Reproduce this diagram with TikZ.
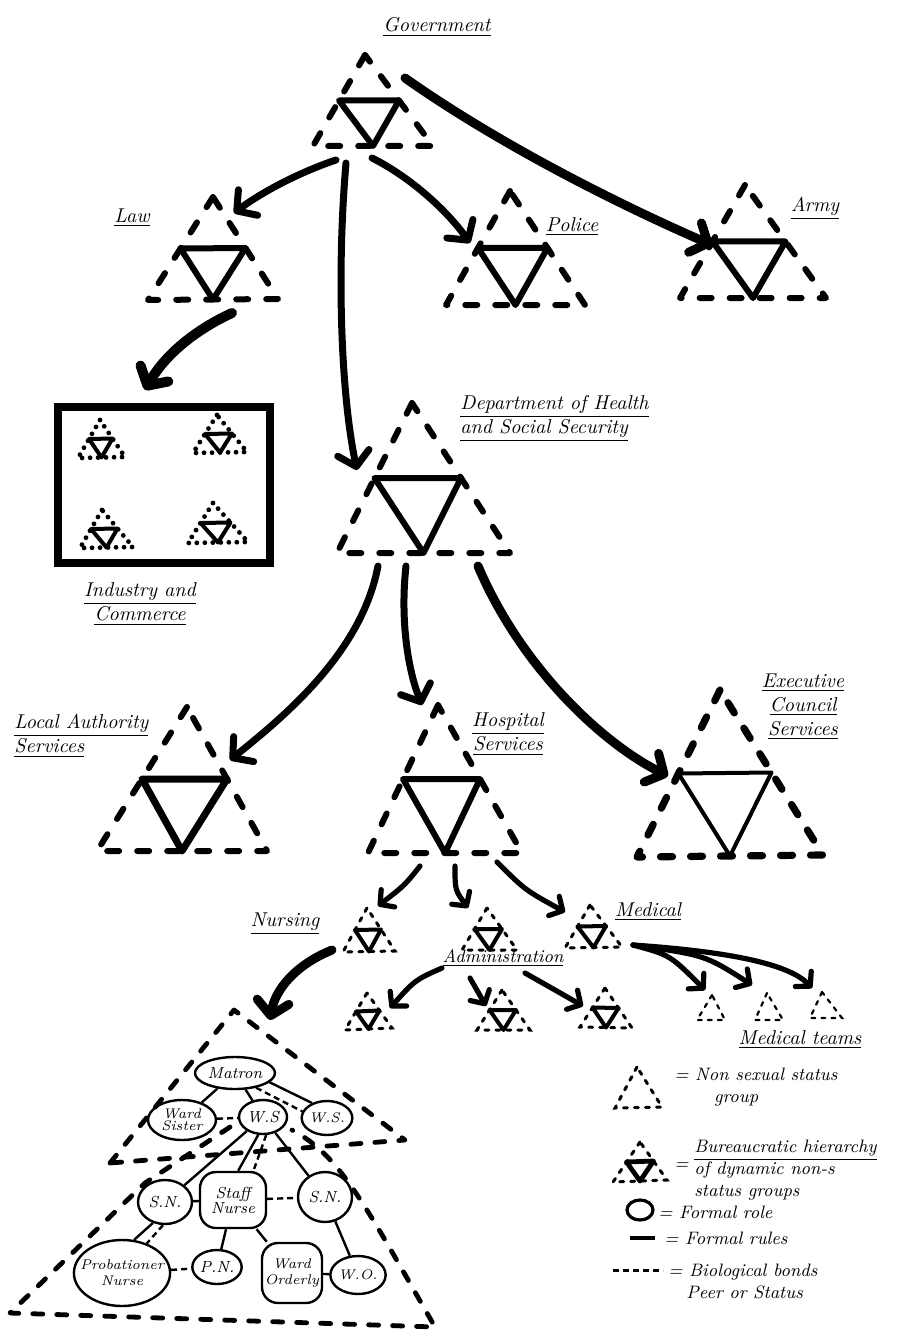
\documentclass[tikz,border=0pt]{standalone}
\usepackage{tikz}
\usetikzlibrary{arrows.meta,shapes,calc,positioning}
\tikzset{
	outer/.style={line width=3pt, dash pattern=on 6pt off 9pt, line cap=round, line join=round},
	inner/.style={line width=3pt, line cap=round, line join=round},
	smallouter/.style={line width=1.5pt, dash pattern=on 2pt off 3.5pt, line cap=round},
	smallinner/.style={line width=2pt, line cap=round, line join=round},
	teamouter/.style={line width=1.1pt, dash pattern=on 2pt off 3pt, line cap=round},
	dotouter/.style={line width=2.4pt, dash pattern=on 0pt off 4pt, line cap=round},
	nursouter/.style={line width=2.4pt, dash pattern=on 5pt off 7pt, line cap=round, line join=round},
	bigarrow/.style={line width=3.5pt, line cap=round, -{Straight Barb[length=7pt,width=16pt,line cap=round,line join=round]}},
	smallarrow/.style={line width=2.6pt, line cap=round, -{Straight Barb[length=5pt,width=11pt,line cap=round,line join=round]}},
	grouplabel/.style={font=\itshape, inner sep=1pt, align=center},
	keylabel/.style={font=\itshape\small, inner sep=1pt, align=left, anchor=west},
	role/.style={ellipse, draw, line width=1.2pt, inner sep=0pt, font=\itshape\scriptsize, align=center},
	rolebox/.style={rectangle, rounded corners=8pt, draw, line width=1.2pt, inner sep=0pt, font=\itshape\footnotesize, align=center},
	rule/.style={line width=1.2pt},
	bond/.style={line width=1.2pt, dash pattern=on 3pt off 2pt}
}

\begin{document}
\begin{tikzpicture}[x=0.5pt,y=-0.5pt]
	\useasboundingbox (0,0) rectangle (898,1332);

	%%Government and the first level
	\draw[outer] (365,55) coordinate (govA) -- (313,146) coordinate (govL) -- (433,146) coordinate (govR) -- cycle;
	\draw[inner] ($(govA)!.5!(govL)$) -- ($(govA)!.5!(govR)$) -- ($(govL)!.5!(govR)$) -- cycle;
	\node[grouplabel] (govlabel) at (437,27) {\underline{Government}};

	\draw[outer] (213,197) coordinate (lawA) -- (148,300) coordinate (lawL) -- (278,299) coordinate (lawR) -- cycle;
	\draw[inner] ($(lawA)!.5!(lawL)$) -- ($(lawA)!.5!(lawR)$) -- ($(lawL)!.5!(lawR)$) -- cycle;
	\node[grouplabel] (lawlabel) at (132,218) {\underline{Law}};

	\draw[outer] (510,191) coordinate (polA) -- (446,305) coordinate (polL) -- (585,305) coordinate (polR) -- cycle;
	\draw[inner] ($(polA)!.5!(polL)$) -- ($(polA)!.5!(polR)$) -- ($(polL)!.5!(polR)$) -- cycle;
	\node[grouplabel] (pollabel) at (572,227) {\underline{Police}};

	\draw[outer] (745,185) coordinate (armyA) -- (680,298) coordinate (armyL) -- (826,298) coordinate (armyR) -- cycle;
	\draw[inner] ($(armyA)!.5!(armyL)$) -- ($(armyA)!.5!(armyR)$) -- ($(armyL)!.5!(armyR)$) -- cycle;
	\node[grouplabel] (armylabel) at (815,208) {\underline{Army}};

	%%Industry and Commerce
	\node[draw, line width=4pt, minimum width=106pt, minimum height=78pt, inner sep=0pt] (industry) at (163.5,485) {};
	\draw[dotouter] (100,420) coordinate (indaA) -- (78,458) coordinate (indaL) -- (125,457) coordinate (indaR) -- cycle;
	\draw[smallinner] ($(indaA)!.5!(indaL)$) -- ($(indaA)!.5!(indaR)$) -- ($(indaL)!.5!(indaR)$) -- cycle;
	\draw[dotouter] (217,415) coordinate (indbA) -- (193,453) coordinate (indbL) -- (247,452) coordinate (indbR) -- cycle;
	\draw[smallinner] ($(indbA)!.5!(indbL)$) -- ($(indbA)!.5!(indbR)$) -- ($(indbL)!.5!(indbR)$) -- cycle;
	\draw[dotouter] (102,510) coordinate (indcA) -- (80,548) coordinate (indcL) -- (133,547) coordinate (indcR) -- cycle;
	\draw[smallinner] ($(indcA)!.5!(indcL)$) -- ($(indcA)!.5!(indcR)$) -- ($(indcL)!.5!(indcR)$) -- cycle;
	\draw[dotouter] (213,503) coordinate (inddA) -- (188,543) coordinate (inddL) -- (248,542) coordinate (inddR) -- cycle;
	\draw[smallinner] ($(inddA)!.5!(inddL)$) -- ($(inddA)!.5!(inddR)$) -- ($(inddL)!.5!(inddR)$) -- cycle;
	\node[grouplabel] (indlabel) at (140,604) {\underline{Industry and}\\\underline{Commerce}};

	%%Department of Health and Social Security
	\draw[outer] (412,403) coordinate (dhssA) -- (337,553) coordinate (dhssL) -- (510,553) coordinate (dhssR) -- cycle;
	\draw[inner] ($(dhssA)!.5!(dhssL)$) -- ($(dhssA)!.5!(dhssR)$) -- ($(dhssL)!.5!(dhssR)$) -- cycle;
	\node[grouplabel, align=left, anchor=west] (dhsslabel) at (458,418) {\underline{Department of Health}\\\underline{and Social Security}};

	%%services
	\draw[outer] (187,707) coordinate (locA) -- (97,851) coordinate (locL) -- (267,851) coordinate (locR) -- cycle;
	\draw[inner, line width=3.5pt] ($(locA)!.5!(locL)$) -- ($(locA)!.5!(locR)$) -- ($(locL)!.5!(locR)$) -- cycle;
	\node[grouplabel, align=left, anchor=west] (loclabel) at (12,736) {\underline{Local Authority}\\\underline{Services}};

	\draw[outer] (438,705) coordinate (hospA) -- (368,853) coordinate (hospL) -- (522,853) coordinate (hospR) -- cycle;
	\draw[inner] ($(hospA)!.5!(hospL)$) -- ($(hospA)!.5!(hospR)$) -- ($(hospL)!.5!(hospR)$) -- cycle;
	\node[grouplabel] (hosplabel) at (508,734) {\underline{Hospital}\\\underline{Services}};

	\draw[outer, line width=3.6pt] (720,690) coordinate (execA) -- (637,857) coordinate (execL) -- (823,855) coordinate (execR) -- cycle;
	\draw[inner, line width=2pt] ($(execA)!.5!(execL)$) -- ($(execA)!.5!(execR)$) -- ($(execL)!.5!(execR)$) -- cycle;
	\node[grouplabel] (execlabel) at (803,707) {\underline{Executive}\\\underline{Council}\\\underline{Services}};

	%%hospital groups
	\draw[smallouter] (367,908) coordinate (nursA) -- (343,952) coordinate (nursL) -- (395,951) coordinate (nursR) -- cycle;
	\draw[smallinner] ($(nursA)!.5!(nursL)$) -- ($(nursA)!.5!(nursR)$) -- ($(nursL)!.5!(nursR)$) -- cycle;
	\node[grouplabel] (nurslabel) at (285,924) {\underline{Nursing}};

	\draw[smallouter] (487,908) coordinate (admA) -- (462,950) coordinate (admL) -- (517,950) coordinate (admR) -- cycle;
	\draw[smallinner] ($(admA)!.5!(admL)$) -- ($(admA)!.5!(admR)$) -- ($(admL)!.5!(admR)$) -- cycle;
	\node[grouplabel, font=\itshape\small] (admlabel) at (503,958) {\underline{Administration}};

	\draw[smallouter] (590,905) coordinate (medA) -- (565,948) coordinate (medL) -- (622,947) coordinate (medR) -- cycle;
	\draw[smallinner] ($(medA)!.5!(medL)$) -- ($(medA)!.5!(medR)$) -- ($(medL)!.5!(medR)$) -- cycle;
	\node[grouplabel] (medlabel) at (648,912) {\underline{Medical}};

	%administration below
	\draw[smallouter] (367,993) coordinate (admaA) -- (345,1030) coordinate (admaL) -- (392,1028) coordinate (admaR) -- cycle;
	\draw[smallinner] ($(admaA)!.5!(admaL)$) -- ($(admaA)!.5!(admaR)$) -- ($(admaL)!.5!(admaR)$) -- cycle;
	\draw[smallouter] (502,990) coordinate (admbA) -- (477,1030) coordinate (admbL) -- (530,1030) coordinate (admbR) -- cycle;
	\draw[smallinner] ($(admbA)!.5!(admbL)$) -- ($(admbA)!.5!(admbR)$) -- ($(admbL)!.5!(admbR)$) -- cycle;
	\draw[smallouter] (605,988) coordinate (admcA) -- (580,1027) coordinate (admcL) -- (632,1028) coordinate (admcR) -- cycle;
	\draw[smallinner] ($(admcA)!.5!(admcL)$) -- ($(admcA)!.5!(admcR)$) -- ($(admcL)!.5!(admcR)$) -- cycle;

	%medical teams
	\draw[teamouter] (712,995) coordinate (teamaA) -- (697,1020) coordinate (teamaL) -- (725,1020) coordinate (teamaR) -- cycle;
	\draw[teamouter] (767,993) coordinate (teambA) -- (755,1020) coordinate (teambL) -- (783,1020) coordinate (teambR) -- cycle;
	\draw[teamouter] (822,992) coordinate (teamcA) -- (810,1018) coordinate (teamcL) -- (842,1018) coordinate (teamcR) -- cycle;
	\node[grouplabel] (teamlabel) at (800,1040) {\underline{Medical teams}};

	%%arrow ends
	\coordinate (govsw) at (336,160);
	\coordinate (govs) at (346,163);
	\coordinate (govse) at (372,158);
	\coordinate (gove) at (405,78);
	\coordinate (lawin) at (234,213);
	\coordinate (dhssin) at (357,470);
	\coordinate (polin) at (470,243);
	\coordinate (armyin) at (712,245);
	\coordinate (lawout) at (232,313);
	\coordinate (indin) at (145,390);
	\coordinate (dhsssw) at (378,566);
	\coordinate (dhsss) at (406,566);
	\coordinate (dhssse) at (478,566);
	\coordinate (locin) at (230,760);
	\coordinate (hospin) at (422,705);
	\coordinate (execin) at (668,776);
	\coordinate (hospsw) at (420,866);
	\coordinate (hosps) at (455,866);
	\coordinate (hospse) at (497,862);
	\coordinate (nursin) at (378,906);
	\coordinate (admin) at (468,908);
	\coordinate (medin) at (565,912);
	\coordinate (nursout) at (332,950);
	\coordinate (wardin) at (270,1020);
	\coordinate (admsw) at (442,968);
	\coordinate (adms) at (470,978);
	\coordinate (admse) at (525,973);
	\coordinate (admain) at (390,1008);
	\coordinate (admbin) at (486,1006);
	\coordinate (admcin) at (583,1006);
	\coordinate (medout) at (633,945);
	\coordinate (teamain) at (705,990);
	\coordinate (teambin) at (752,985);
	\coordinate (teamcin) at (812,988);

	%%arrows
	\draw[bigarrow] (govsw) .. controls (300,172) and (262,192) .. (lawin);
	\draw[bigarrow] (govs) .. controls (336,280) and (342,400) .. (dhssin);
	\draw[bigarrow] (govse) .. controls (412,178) and (448,212) .. (polin);
	\draw[bigarrow, line width=4.5pt] (gove) .. controls (500,145) and (620,205) .. (armyin);
	\draw[bigarrow, line width=5pt] (lawout) .. controls (195,330) and (165,355) .. (indin);
	\draw[bigarrow] (dhsssw) .. controls (362,650) and (290,712) .. (locin);
	\draw[bigarrow] (dhsss) .. controls (400,620) and (408,670) .. (hospin);
	\draw[bigarrow, line width=4.5pt] (dhssse) .. controls (520,665) and (600,742) .. (execin);
	\draw[smallarrow] (hospsw) .. controls (405,885) .. (nursin);
	\draw[smallarrow] (hosps) .. controls (455,890) .. (admin);
	\draw[smallarrow] (hospse) .. controls (525,890) .. (medin);
	\draw[bigarrow, line width=4.5pt] (nursout) .. controls (295,965) and (275,990) .. (wardin);
	\draw[smallarrow] (admsw) .. controls (415,980) .. (admain);
	\draw[smallarrow] (adms) -- (admbin);
	\draw[smallarrow] (admse) .. controls (555,990) .. (admcin);
	\draw[smallarrow] (medout) .. controls (670,955) .. (teamain);
	\draw[smallarrow] (medout) .. controls (705,955) .. (teambin);
	\draw[smallarrow] (medout) .. controls (735,952) and (790,965) .. (teamcin);

	%%nursing hierarchy
	\node[role, minimum width=40pt, minimum height=16pt, font=\itshape\footnotesize] (matron) at (235,1073) {Matron};
	\node[role, minimum width=34pt, minimum height=20pt, inner sep=-1.5pt] (wsis) at (182,1120) {Ward\\[-2pt]Sister};
	\node[role, minimum width=24pt, minimum height=17pt, font=\itshape\footnotesize] (ws) at (263,1117) {W.S};
	\node[role, minimum width=22pt, minimum height=17pt] (wsr) at (327,1118) {W.S.};
	\node[role, minimum width=27pt, minimum height=22pt, font=\itshape\footnotesize] (snl) at (165,1202) {S.N.};
	\node[rolebox, minimum width=33pt, minimum height=28pt] (staff) at (233,1200) {Staff\\[-2pt]Nurse};
	\node[role, minimum width=27pt, minimum height=25pt, font=\itshape\footnotesize] (snr) at (325,1197) {S.N.};
	\node[role, minimum width=48pt, minimum height=33pt, inner sep=-4pt] (prob) at (122,1273) {Probationer\\Nurse};
	\node[role, minimum width=20pt, minimum height=17pt, font=\itshape\footnotesize] (pn) at (217,1267) {P.N.};
	\node[rolebox, minimum width=30pt, minimum height=30pt, font=\itshape\scriptsize] (wo) at (292,1273) {Ward\\Orderly};
	\node[role, minimum width=22pt, minimum height=19pt] (wor) at (358,1275) {W.O.};

	\draw[rule] (matron) -- (wsis);
	\draw[rule] (matron) -- (ws);
	\draw[rule] (matron.-15) -- (wsr.135);
	\draw[bond] (matron.-35) -- (wsr.165);
	\draw[bond] (wsis) -- (ws);
	\draw[rule] (ws) -- (snl);
	\draw[rule] (ws.-105) -- (staff.80);
	\draw[bond] (ws.-80) -- (staff.55);
	\draw[rule] (ws) -- (snr);
	\draw[rule] (snl) -- (staff);
	\draw[bond] (staff) -- (snr);
	\draw[rule] (snl.-120) -- (prob.70);
	\draw[bond] (snl.-95) -- (prob.50);
	\draw[bond] (prob) -- (pn);
	\draw[rule] (staff) -- (pn);
	\draw[rule] (staff) -- (wo);
	\draw[bond] (wo) -- (wor);
	\draw[rule] (snr) -- (wor);

	%%dashed groups round the nurses
	\draw[nursouter] (110,1163) coordinate (wardL) -- (234,1010) coordinate (wardA) -- (405,1140) coordinate (wardR) -- cycle;
	\coordinate (bigTL) at (230,1127);
	\coordinate (bigTR) at (292,1130);
	\coordinate (bigL) at (10,1313);
	\coordinate (bigR) at (435,1327);
	\draw[nursouter] (bigTL) -- (145,1183) -- (bigL) -- (bigR) .. controls (365,1205) and (340,1155) .. (bigTR);

	%%key
	\draw[smallouter] (637,1067) coordinate (keyaA) -- (615,1108) coordinate (keyaL) -- (662,1107) coordinate (keyaR) -- cycle;
	\node[keylabel] (keystatus) at (672,1087) {= Non sexual status\\\hspace*{2.2em}group};

	\draw[smallouter] (640,1142) coordinate (keybA) -- (613,1182) coordinate (keybL) -- (667,1180) coordinate (keybR) -- cycle;
	\draw[smallinner, line width=2.4pt] ($(keybA)!.5!(keybL)$) -- ($(keybA)!.5!(keybR)$) -- ($(keybL)!.5!(keybR)$) -- cycle;
	\node[keylabel] (keyeq) at (672,1166) {=};
	\node[keylabel] (keybureau) at (692,1170) {\underline{Bureaucratic hierarchy}\\of dynamic non-s\\status groups};

	\node[draw, ellipse, line width=1.6pt, minimum width=13pt, minimum height=10pt] (keyrole) at (640,1210) {};
	\node[keylabel] (keyroletext) at (656,1212) {= Formal role};

	\coordinate (keyruleA) at (630,1238);
	\coordinate (keyruleB) at (655,1238);
	\draw[line width=2pt] (keyruleA) -- (keyruleB);
	\node[keylabel] (keyruletext) at (662,1238) {= Formal rules};

	\coordinate (keybondA) at (613,1270);
	\coordinate (keybondB) at (663,1270);
	\draw[bond, line width=1.5pt] (keybondA) -- (keybondB);
	\node[keylabel] (keybondtext) at (666,1281) {= Biological bonds\\\hspace*{1em}Peer or Status};
\end{tikzpicture}
\end{document}
